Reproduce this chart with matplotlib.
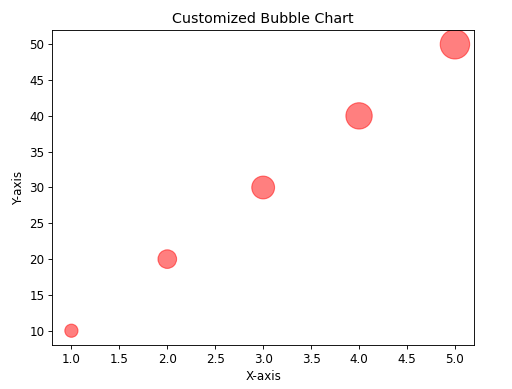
import matplotlib
matplotlib.use("Agg")
import matplotlib.pyplot as plt

x = [1, 2, 3, 4, 5]
y = [10, 20, 30, 40, 50]
sizes = [100, 200, 300, 400, 500]

plt.rcParams['font.size'] = 10.7
fig = plt.figure(figsize=(6.4, 4.8625), dpi=80)
ax = fig.add_axes([0.102, 0.113, 0.824, 0.810])
ax.scatter(x, y, s=[v * 1.4 for v in sizes], c='red', alpha=0.5)
ax.set_title('Customized Bubble Chart', fontsize=12.8)
ax.set_xlabel('X-axis')
ax.set_ylabel('Y-axis')
fig.savefig('out.png', dpi=80)
